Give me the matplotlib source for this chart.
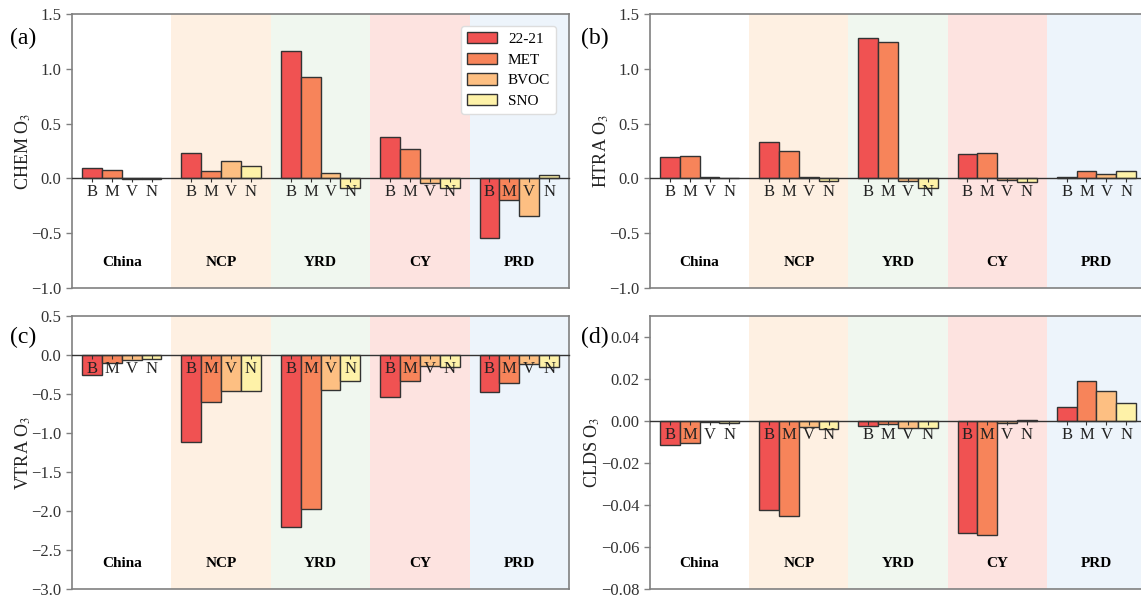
import numpy as np
import matplotlib.pyplot as plt
import matplotlib.transforms as mtransforms

plt.rcParams['font.family'] = ['Liberation Serif', 'DejaVu Serif']
plt.rcParams['mathtext.fontset'] = 'stix'

# regions and series
regions = ['China', 'NCP', 'YRD', 'CY', 'PRD']
series = ['22-21', 'MET', 'BVOC', 'SNO']
short = ['B', 'M', 'V', 'N']

# values per series, one entry per region
chem = {
    '22-21': [0.095, 0.229, 1.159, 0.378, -0.543],
    'MET':   [0.073, 0.070, 0.924, 0.271, -0.198],
    'BVOC':  [-0.004, 0.162, 0.049, -0.043, -0.345],
    'SNO':   [-0.004, 0.113, -0.091, -0.091, 0.027],
}
htra = {
    '22-21': [0.198, 0.332, 1.283, 0.220, 0.015],
    'MET':   [0.207, 0.247, 1.247, 0.235, 0.064],
    'BVOC':  [0.009, 0.015, -0.027, -0.018, 0.037],
    'SNO':   [0.006, -0.024, -0.088, -0.034, 0.064],
}
vtra = {
    '22-21': [-0.259, -1.117, -2.208, -0.539, -0.476],
    'MET':   [-0.098, -0.599, -1.970, -0.335, -0.357],
    'BVOC':  [-0.059, -0.459, -0.450, -0.136, -0.110],
    'SNO':   [-0.051, -0.463, -0.327, -0.157, -0.153],
}
clds = {
    '22-21': [-0.0114, -0.0422, -0.0022, -0.0533, 0.0068],
    'MET':   [-0.0106, -0.0452, -0.0014, -0.0544, 0.0191],
    'BVOC':  [-0.0006, -0.0027, -0.0033, -0.0009, 0.0144],
    'SNO':   [-0.0010, -0.0036, -0.0033, 0.0003, 0.0084],
}

bar_colors = ['#F05252', '#F7845A', '#FDBF82', '#FEF2A8']
bg_colors = ['#FFFFFF', '#FEF0E2', '#F0F7EF', '#FDE3E0', '#EDF4FB']

panels = [
    ('(a)', chem, 'CHEM O$_3$', (-1.0, 1.5), [-1.0, -0.5, 0.0, 0.5, 1.0, 1.5], '{:.1f}'),
    ('(b)', htra, 'HTRA O$_3$', (-1.0, 1.5), [-1.0, -0.5, 0.0, 0.5, 1.0, 1.5], '{:.1f}'),
    ('(c)', vtra, 'VTRA O$_3$', (-3.0, 0.5), [-3.0, -2.5, -2.0, -1.5, -1.0, -0.5, 0.0, 0.5], '{:.1f}'),
    ('(d)', clds, 'CLDS O$_3$', (-0.08, 0.05), [-0.08, -0.06, -0.04, -0.02, 0.0, 0.02, 0.04], '{:.2f}'),
]

W, H = 1141, 601
fig = plt.figure(figsize=(W / 100, H / 100), dpi=100)

# axes boxes in pixels: left, top, right, bottom
boxes = [(72, 14, 569, 288), (650, 14, 1146, 288),
         (72, 316, 569, 589), (650, 316, 1146, 589)]
letter_pos = [(23, 38), (595, 38), (23, 337), (595, 337)]
spine_col = '#808080'

width = 0.2
offsets = [-0.3, -0.1, 0.1, 0.3]
x = np.arange(len(regions))

for (tag, data, ylab, ylim, yticks, fmt), (l, t, r, b), (lx, ly) in zip(panels, boxes, letter_pos):
    ax = fig.add_axes([l / W, 1 - b / H, (r - l) / W, (b - t) / H])
    for i, c in enumerate(bg_colors):
        ax.axvspan(i - 0.5, i + 0.5, color=c, zorder=0, lw=0)
    for k, s in enumerate(series):
        ax.bar(x + offsets[k], data[s], width=width, color=bar_colors[k],
               edgecolor='#333333', linewidth=1.0, label=s, zorder=2)
    ax.set_xlim(-0.5, 4.5)
    ax.set_ylim(*ylim)
    ax.set_yticks(yticks)
    ax.set_yticklabels([fmt.format(v).replace('-', '\u2212') for v in yticks])
    ax.tick_params(axis='y', labelsize=12, colors='#333333', color=spine_col,
                   length=4, width=1)
    ax.set_xticks([])
    for sp in ax.spines.values():
        sp.set_color(spine_col)
        sp.set_linewidth(1.2)
    ax.set_ylabel(ylab, fontsize=13, color='#222222', labelpad=-1)

    # B M V N labels hanging from the zero line
    frac = (0 - ylim[0]) / (ylim[1] - ylim[0])
    sec = ax.secondary_xaxis(frac)
    sec.set_alignment('bottom')
    pos = [xi + o for xi in x for o in offsets]
    sec.set_xticks(pos)
    sec.set_xticklabels(short * len(regions))
    sec.tick_params(axis='x', labelsize=12, length=3, width=0.8, pad=1,
                    color='#333333', labelcolor='#222222')
    sec.spines['bottom'].set_color('#333333')
    sec.spines['bottom'].set_linewidth(1.0)
    sec.set_zorder(3)

    trans = mtransforms.blended_transform_factory(ax.transData, ax.transAxes)
    for i, name in enumerate(regions):
        ax.text(i, 0.092, name, transform=trans, ha='center', va='center',
                fontsize=11, fontweight='bold')

    fig.text(lx / W, 1 - ly / H, tag, fontsize=17, ha='center', va='center')

    if tag == '(a)':
        ax.legend(loc='upper right', fontsize=11, frameon=True, fancybox=True,
                  handlelength=2.0, handleheight=0.75, borderpad=0.4,
                  labelspacing=0.45, handletextpad=0.7, framealpha=1,
                  edgecolor='#dddddd', bbox_to_anchor=(0.99, 0.985))

fig.savefig('out.png', dpi=100)
